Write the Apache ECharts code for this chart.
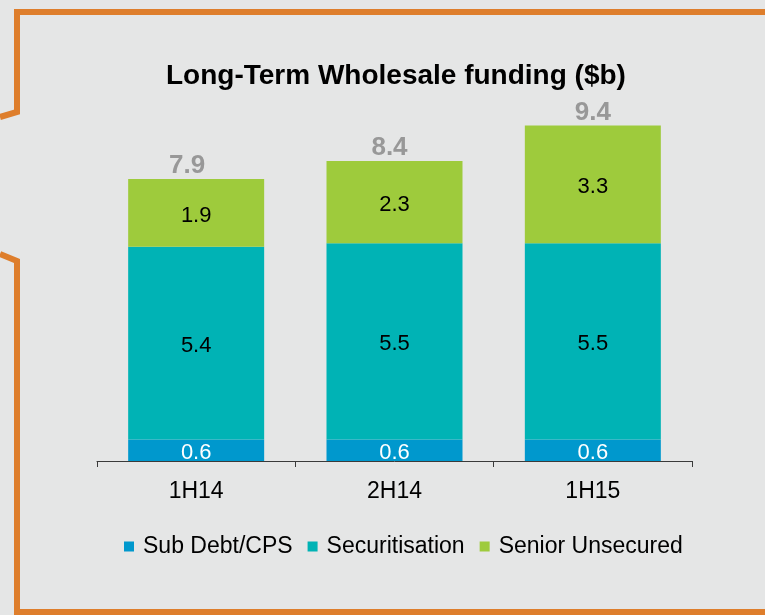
<!DOCTYPE html>
<html>
<head>
<meta charset="utf-8">
<script src="https://cdn.jsdelivr.net/npm/echarts@6/dist/echarts.min.js"></script>
<style>
  html, body { margin: 0; padding: 0; background: #e5e6e6; }
  #main { width: 765px; height: 615px; }
</style>
</head>
<body>
<div id="main"></div>
<script>
const categories = ['1H14', '2H14', '1H15']
const subDebt = [0.6, 0.6, 0.6]
const securitisation = [5.4, 5.5, 5.5]
const seniorUnsecured = [1.9, 2.3, 3.3]
const totals = [7.9, 8.4, 9.4]

const font = 'Liberation Sans, Arial, sans-serif'
const orange = '#de7e2c'
// the total labels in the original sit a little left of the bar centre
const totalShift = [-9, -5, 0]

const chart = echarts.init(document.getElementById('main'))

const segLabel = (color) => ({
    show: true,
    position: 'inside',
    color: color,
    fontSize: 22,
    fontFamily: font,
    offset: [0, 3],
    formatter: (p) => p.value.toFixed(1),
})

chart.setOption({
    backgroundColor: '#e5e6e6',
    animation: false,
    title: {
        text: 'Long-Term Wholesale funding ($b)',
        left: 161,
        top: 57,
        textStyle: { fontSize: 28, fontWeight: 'bold', color: '#000', fontFamily: font },
    },
    legend: {
        data: ['Sub Debt/CPS', 'Securitisation', 'Senior Unsecured'],
        top: 530,
        left: 119,
        icon: 'rect',
        itemWidth: 10,
        itemHeight: 10,
        itemGap: 15,
        textStyle: { fontSize: 23, color: '#000', fontFamily: font, padding: [0, 0, 0, 4] },
    },
    grid: { left: 97, right: 73, top: 104, bottom: 154 },
    xAxis: {
        type: 'category',
        data: categories,
        axisLine: { lineStyle: { color: '#3a3a3a', width: 1 } },
        axisTick: { show: true, length: 6, lineStyle: { color: '#3a3a3a' } },
        axisLabel: { fontSize: 23, color: '#000', fontFamily: font, margin: 19 },
    },
    yAxis: { type: 'value', min: 0, max: 10, show: false, splitLine: { show: false } },
    series: [
        {
            name: 'Sub Debt/CPS', type: 'bar', stack: 'a', barWidth: 136,
            data: subDebt, itemStyle: { color: '#0098cd' }, label: segLabel('#fff'),
        },
        {
            name: 'Securitisation', type: 'bar', stack: 'a',
            data: securitisation, itemStyle: { color: '#00b3b5' }, label: segLabel('#000'),
        },
        {
            name: 'Senior Unsecured', type: 'bar', stack: 'a',
            data: seniorUnsecured, itemStyle: { color: '#9ecb3c' }, label: segLabel('#000'),
        },
        {
            name: 'Total', type: 'scatter', symbolSize: 0, silent: true,
            data: totals.map((v, i) => ({ value: v, label: { offset: [totalShift[i], 0] } })),
            label: {
                show: true, position: 'top', distance: 0,
                fontSize: 26, fontWeight: 'bold', color: '#858585', fontFamily: font,
                formatter: (p) => p.value.toFixed(1),
            },
        },
    ],
    graphic: [
        {
            type: 'polyline', silent: true,
            shape: { points: [[0, 117], [17, 112], [17, 12], [765, 12]] },
            style: { stroke: orange, lineWidth: 6, fill: null, lineJoin: 'miter' },
        },
        {
            type: 'polyline', silent: true,
            shape: { points: [[0, 254], [17, 261], [17, 612], [765, 612]] },
            style: { stroke: orange, lineWidth: 6, fill: null, lineJoin: 'miter' },
        },
    ],
})

window.addEventListener('resize', () => chart.resize())
</script>
</body>
</html>
